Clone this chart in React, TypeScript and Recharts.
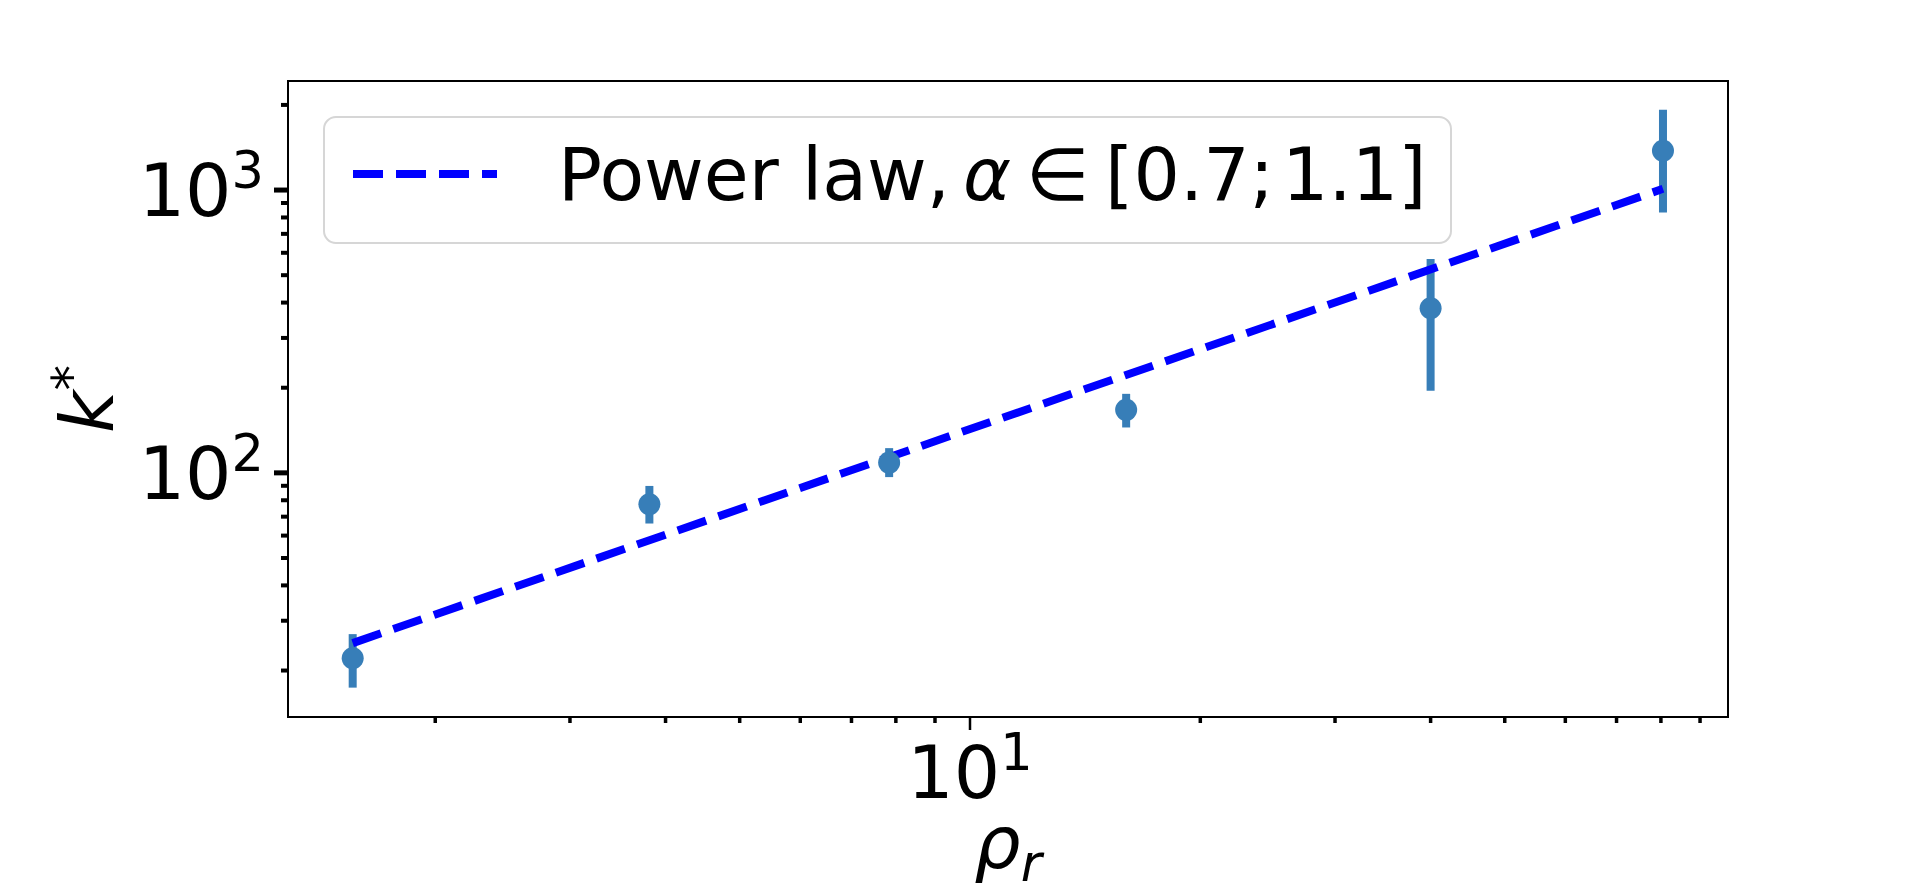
import React from 'react';
import { ComposedChart, XAxis, YAxis, Scatter, Line, ErrorBar, ReferenceArea } from 'recharts';

// measured points (rho_r, k*) with the ends of the error bars
const rho = [1.56, 3.81, 7.84, 16, 40, 80.5];
const kStar = [22.1, 77.5, 108.7, 167, 382, 1377];
const kLow = [17.4, 66.2, 96.6, 144.7, 195, 833];
const kHigh = [26.9, 89.9, 122.3, 190.3, 571, 1923];

// dashed power-law guide, read at both ends
const fitRho = [1.56, 80.5];
const fitK = [25, 1010];

const xTicks = [2, 3, 4, 5, 6, 7, 8, 9, 10, 20, 30, 40, 50, 60, 70, 80, 90];
const xMajor = [10];
const yTicks = [20, 30, 40, 50, 60, 70, 80, 90, 100, 200, 300, 400, 500, 600, 700, 800, 900, 1000, 2000];
const yMajor = [100, 1000];

const X_DOMAIN: [number, number] = [1.284, 97.9];
const Y_DOMAIN: [number, number] = [13.7, 2430];

const FONT = 'DejaVu Sans';
const POINT_COLOR = '#377eb8';

const points = rho.map((x, i) => ({
  x,
  y: kStar[i],
  err: [kStar[i] - kLow[i], kHigh[i] - kStar[i]],
}));
const fitData = fitRho.map((x, i) => ({ x, y: fitK[i] }));

const XTick = (props: any) => {
  const { x, y, payload } = props;
  const major = xMajor.includes(payload.value);
  return (
    <g>
      <line x1={x} x2={x} y1={y} y2={y + (major ? 13 : 6)} stroke="#000" strokeWidth={major ? 2.5 : 3.5} />
      {major && (
        <text x={x} y={y + 81} textAnchor="middle" fontFamily={FONT} fontSize={73} fill="#000">
          10
          <tspan dy={-27.6} fontSize={51}>{Math.round(Math.log10(payload.value))}</tspan>
        </text>
      )}
    </g>
  );
};

const YTick = (props: any) => {
  const { x, y, payload } = props;
  const major = yMajor.includes(payload.value);
  return (
    <g>
      <line x1={x} x2={x - (major ? 14 : 7)} y1={y} y2={y} stroke="#000" strokeWidth={major ? 5 : 4} />
      {major && (
        <text x={x - 24} y={y + 26.4} textAnchor="end" fontFamily={FONT} fontSize={73} fill="#000">
          10
          <tspan dy={-28.7} fontSize={51}>{Math.round(Math.log10(payload.value))}</tspan>
        </text>
      )}
    </g>
  );
};

const Dot = (props: any) => <circle cx={props.cx} cy={props.cy} r={11} fill={POINT_COLOR} />;

export default function App() {
  return (
    <div style={{ position: 'absolute', left: 0, top: 0, width: 1920, height: 896, background: '#fff' }}>
      <ComposedChart width={1920} height={896} margin={{ top: 81, right: 192, bottom: 178, left: 287 }}>
        <XAxis
          dataKey="x"
          type="number"
          scale="log"
          domain={X_DOMAIN}
          allowDataOverflow
          ticks={xTicks}
          interval={0}
          height={1}
          tickSize={0}
          tickMargin={0}
          axisLine={false}
          tickLine={false}
          tick={<XTick />}
        />
        <YAxis
          dataKey="y"
          type="number"
          scale="log"
          domain={Y_DOMAIN}
          allowDataOverflow
          ticks={yTicks}
          interval={0}
          width={1}
          tickSize={0}
          tickMargin={0}
          axisLine={false}
          tickLine={false}
          tick={<YTick />}
        />
        <ReferenceArea
          x1={X_DOMAIN[0]}
          x2={X_DOMAIN[1]}
          y1={Y_DOMAIN[0]}
          y2={Y_DOMAIN[1]}
          fill="none"
          stroke="#000"
          strokeWidth={2}
          ifOverflow="visible"
        />
        <Scatter data={points} shape={<Dot />} isAnimationActive={false}>
          <ErrorBar dataKey="err" direction="y" width={0} stroke={POINT_COLOR} strokeWidth={8} isAnimationActive={false} />
        </Scatter>
        <Line
          data={fitData}
          dataKey="y"
          type="linear"
          stroke="#0000ff"
          strokeWidth={8}
          strokeDasharray="30 13"
          dot={false}
          activeDot={false}
          isAnimationActive={false}
        />
      </ComposedChart>

      {/* legend and axis titles */}
      <svg width={1920} height={896} style={{ position: 'absolute', left: 0, top: 0, pointerEvents: 'none' }}>
        <rect x={324} y={117} width={1127} height={126} rx={12} fill="rgba(255,255,255,0.8)" stroke="#d6d6d6" strokeWidth={2} />
        <line x1={353} x2={497} y1={174} y2={174} stroke="#0000ff" strokeWidth={8} strokeDasharray="30 13" />
        <text y={200} fontFamily={FONT} fontSize={73} fill="#000">
          <tspan x={558}>Power law,</tspan>
          <tspan x={963} fontStyle="italic">α</tspan>
          <tspan x={1026}>∈</tspan>
          <tspan x={1105}>[0.7;</tspan>
          <tspan x={1282}>1.1]</tspan>
        </text>
        <text x={1008} y={868} textAnchor="middle" fontFamily={FONT} fontSize={73} fill="#000">
          <tspan fontStyle="italic">ρ</tspan>
          <tspan dy={13} fontSize={51} fontStyle="italic">r</tspan>
        </text>
        <text
          x={113}
          y={399}
          textAnchor="middle"
          transform="rotate(-90, 113, 399)"
          fontFamily={FONT}
          fontSize={73}
          fill="#000"
        >
          <tspan fontStyle="italic">k</tspan>
          <tspan dy={-24} fontSize={51}>*</tspan>
        </text>
      </svg>
    </div>
  );
}
